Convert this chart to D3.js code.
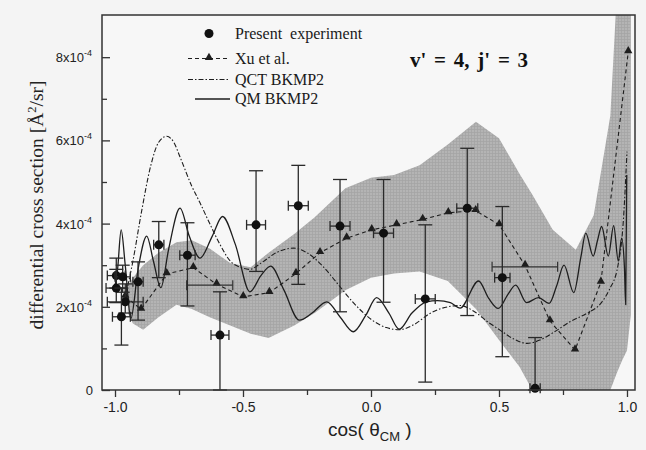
<!DOCTYPE html>
<html>
<head>
<meta charset="utf-8">
<script src="https://cdn.jsdelivr.net/npm/d3@7"></script>
<style>
  body { margin: 0; background: #f4f4f4; }
</style>
</head>
<body>
<div id="chart"></div>
<script>
// values in units of 1e-4 A^2/sr
var expPoints = [
  // [cos, value, low, high, xErr]
  [-0.995, 2.75, 2.45, 3.17, 0.035],
  [-0.97, 2.72, 2.35, 3.0, 0.03],
  [-0.995, 2.45, 2.1, 2.9, 0.04],
  [-0.96, 2.12, 1.85, 2.55, 0.07],
  [-0.975, 1.76, 1.08, 2.45, 0.035],
  [-0.91, 2.6, 1.68, 3.08, 0.02],
  [-0.829, 3.49, 2.7, 4.05, 0.02],
  [-0.717, 3.24, 2.02, 4.02, 0.03],
  [-0.59, 1.32, 0.0, 2.36, 0.035],
  [-0.449, 3.97, 2.85, 5.27, 0.037],
  [-0.284, 4.43, 2.54, 5.4, 0.039],
  [-0.121, 3.94, 1.88, 5.06, 0.039],
  [0.049, 3.77, 2.11, 5.06, 0.039],
  [0.212, 2.19, 0.19, 3.97, 0.039],
  [0.376, 4.37, 1.79, 5.81, 0.041],
  [0.513, 2.7, 0.8, 4.41, 0.03],
  [0.641, 0.04, 0.0, 1.26, 0.02]
];

// wide angular bins drawn without a marker: [cos, value, halfWidth]
var wideBins = [
  [-0.63, 2.52, 0.09],
  [0.601, 2.96, 0.128]
];

var xuCos = [-0.96, -0.898, -0.798, -0.694, -0.603, -0.499, -0.397, -0.293, -0.199, -0.095,
  0.003, 0.1, 0.202, 0.302, 0.409, 0.501, 0.602, 0.699, 0.797, 0.898, 1.005];
var xuVal = [2.25, 1.94, 2.79, 2.94, 2.54, 2.24, 2.34, 2.8, 3.3, 3.65,
  3.85, 3.97, 4.1, 4.26, 4.31, 3.97, 2.99, 1.66, 0.96, 2.59, 8.13];

var qctCos = [-0.95, -0.93, -0.896, -0.86, -0.83, -0.798, -0.77, -0.746, -0.7, -0.668, -0.63,
  -0.59, -0.55, -0.51, -0.473, -0.43, -0.37, -0.303, -0.25, -0.186, -0.13, -0.069, 0.0,
  0.06, 0.11, 0.17, 0.23, 0.3, 0.35, 0.4, 0.46, 0.504, 0.56, 0.61, 0.66, 0.712, 0.78,
  0.842, 0.9, 0.93, 0.965, 0.985, 1.0];
var qctVal = [2.5, 3.1, 4.3, 5.4, 5.95, 6.1, 5.95, 5.6, 4.9, 4.5, 4.0,
  3.5, 3.1, 2.95, 2.9, 3.05, 3.3, 3.41, 3.3, 2.96, 2.55, 2.1, 1.7,
  1.5, 1.45, 1.58, 1.84, 2.0, 2.03, 1.9, 1.62, 1.44, 1.22, 1.12, 1.2, 1.38, 1.65,
  1.84, 2.1, 2.4, 3.0, 4.0, 5.73];

var qmCos = [-1.0, -0.99, -0.976, -0.96, -0.938, -0.91, -0.876, -0.85, -0.821, -0.79, -0.746,
  -0.71, -0.668, -0.62, -0.58, -0.53, -0.473, -0.43, -0.392, -0.34, -0.28, -0.23, -0.173,
  -0.12, -0.069, -0.02, 0.022, 0.07, 0.11, 0.16, 0.217, 0.26, 0.31, 0.348, 0.42, 0.46,
  0.497, 0.535, 0.565, 0.608, 0.654, 0.696, 0.725, 0.754, 0.792, 0.82, 0.839, 0.868,
  0.885, 0.901, 0.927, 0.948, 0.966, 0.979, 0.99, 0.995, 0.999];
var qmVal = [2.5, 2.9, 3.85, 3.0, 1.72, 2.9, 3.7, 3.1, 2.46, 3.4, 4.37,
  3.7, 3.17, 3.7, 4.17, 3.5, 2.36, 2.75, 2.98, 2.4, 1.68, 1.85, 2.12,
  1.75, 1.4, 1.8, 2.22, 1.85, 1.46, 1.85, 2.12, 2.15, 2.1, 1.97, 2.62, 2.2,
  1.96, 2.3, 2.52, 2.1, 2.22, 2.08, 2.5, 3.0, 2.34, 3.2, 3.77, 3.22,
  3.6, 3.93, 3.22, 3.95, 3.1, 3.65, 2.95, 2.05, 5.17];

// shaded band: cos, lower, upper
var bandCos = [-0.95, -0.93, -0.89, -0.83, -0.76, -0.7, -0.63, -0.55, -0.47, -0.4, -0.3,
  -0.22, -0.1, 0.0, 0.09, 0.19, 0.3, 0.41, 0.5, 0.58, 0.63, 0.71, 0.8, 0.87, 0.9,
  0.935, 0.96, 0.98, 1.0, 1.015];
var bandLo = [1.85, 1.6, 1.45, 1.75, 2.05, 1.95, 1.75, 1.55, 1.35, 1.25, 1.55,
  1.85, 2.4, 2.7, 2.8, 2.85, 2.62, 1.95, 1.2, 0.56, 0.0, 0.0, 0.0, 0.0, 0.0,
  0.0, 0.4, 0.7, 0.95, 1.8];
var bandHi = [2.5, 2.7, 3.0, 3.3, 3.55, 3.6, 3.4, 3.05, 2.95, 3.3, 3.75,
  4.15, 4.85, 5.1, 5.17, 5.4, 5.9, 6.45, 6.05, 5.2, 4.7, 3.85, 3.37, 4.2, 5.3,
  6.6, 9.5, 10, 10, 10];

var xTicks = [-1, -0.5, 0, 0.5, 1];
var xTickLabels = ["-1.0", "-0.5", "0.0", "0.5", "1.0"];
var xMinor = [-0.75, -0.25, 0.25, 0.75];
var yTicks = [0, 2, 4, 6, 8];
var yMinor = [1, 3, 5, 7];

function init() {
  var w = 646;
  var h = 450;
  var left = 102, top = 15, right = 635, bottom = 390;
  var ink = "#1e1e1e";

  var svg = d3
    .select("#chart")
    .append("svg")
    .attr("width", w)
    .attr("height", h);

  svg.append("rect").attr("width", w).attr("height", h).attr("fill", "#f4f4f4");

  var x = d3.scaleLinear().domain([-1.0508, 1.0313]).range([left, right]);
  var y = d3.scaleLinear().domain([0, 9.014]).range([bottom, top]);

  // grid texture for the band
  var defs = svg.append("defs");
  var pat = defs
    .append("pattern")
    .attr("id", "grid")
    .attr("width", 3)
    .attr("height", 3)
    .attr("patternUnits", "userSpaceOnUse");
  pat.append("rect").attr("width", 3).attr("height", 3).attr("fill", "#b4b4b4");
  pat.append("path").attr("d", "M0,0.5H3M0.5,0V3").attr("stroke", "#a3a3a3").attr("stroke-width", 0.7);

  defs
    .append("clipPath")
    .attr("id", "clip")
    .append("rect")
    .attr("x", left)
    .attr("y", top)
    .attr("width", right - left)
    .attr("height", bottom - top);

  svg
    .append("rect")
    .attr("x", left)
    .attr("y", top)
    .attr("width", right - left)
    .attr("height", bottom - top)
    .attr("fill", "#f7f7f7");

  var plot = svg.append("g").attr("clip-path", "url(#clip)");

  // band
  var band = bandCos.map((c, i) => ({ c: c, lo: bandLo[i], hi: bandHi[i] }));
  plot
    .append("path")
    .datum(band)
    .attr("fill", "url(#grid)")
    .attr(
      "d",
      d3
        .area()
        .x((d) => x(d.c))
        .y0((d) => y(d.lo))
        .y1((d) => y(d.hi))
    );

  // QCT dash-dot
  var qct = qctCos.map((c, i) => [c, qctVal[i]]);
  plot
    .append("path")
    .datum(qct)
    .attr("fill", "none")
    .attr("stroke", ink)
    .attr("stroke-width", 1.1)
    .attr("stroke-dasharray", "5,2,1.5,2")
    .attr("d", d3.line().x((d) => x(d[0])).y((d) => y(d[1])).curve(d3.curveMonotoneX));

  // QM solid
  var qm = qmCos.map((c, i) => [c, qmVal[i]]);
  plot
    .append("path")
    .datum(qm)
    .attr("fill", "none")
    .attr("stroke", ink)
    .attr("stroke-width", 1.3)
    .attr("d", d3.line().x((d) => x(d[0])).y((d) => y(d[1])).curve(d3.curveMonotoneX));

  // Xu et al. dashed with triangles
  var xu = xuCos.map((c, i) => [c, xuVal[i]]);
  plot
    .append("path")
    .datum(xu)
    .attr("fill", "none")
    .attr("stroke", ink)
    .attr("stroke-width", 1.1)
    .attr("stroke-dasharray", "4,3")
    .attr("d", d3.line().x((d) => x(d[0])).y((d) => y(d[1])));

  var tri = d3.symbol().type(d3.symbolTriangle).size(30);
  plot
    .selectAll(".tri")
    .data(xu)
    .enter()
    .append("path")
    .attr("class", "tri")
    .attr("transform", (d) => "translate(" + x(d[0]) + "," + (y(d[1]) - 1) + ")")
    .attr("d", tri)
    .attr("fill", ink);

  // wide bins
  var bins = plot.selectAll(".bin").data(wideBins).enter().append("g").attr("stroke", "#333").attr("stroke-width", 1.2);
  bins
    .append("line")
    .attr("x1", (d) => x(d[0] - d[2]))
    .attr("x2", (d) => x(d[0] + d[2]))
    .attr("y1", (d) => y(d[1]))
    .attr("y2", (d) => y(d[1]));
  bins
    .append("line")
    .attr("x1", (d) => x(d[0] - d[2]))
    .attr("x2", (d) => x(d[0] - d[2]))
    .attr("y1", (d) => y(d[1]) - 5)
    .attr("y2", (d) => y(d[1]) + 5);
  bins
    .append("line")
    .attr("x1", (d) => x(d[0] + d[2]))
    .attr("x2", (d) => x(d[0] + d[2]))
    .attr("y1", (d) => y(d[1]) - 5)
    .attr("y2", (d) => y(d[1]) + 5);

  // experiment: error bars and circles
  var cap = 7;
  var eb = svg.append("g").selectAll(".eb").data(expPoints).enter().append("g").attr("stroke", "#2a2a2a").attr("stroke-width", 1.3);
  eb.append("line")
    .attr("x1", (d) => x(d[0])).attr("x2", (d) => x(d[0]))
    .attr("y1", (d) => y(d[2])).attr("y2", (d) => y(d[3]));
  eb.append("line")
    .attr("x1", (d) => x(d[0]) - cap).attr("x2", (d) => x(d[0]) + cap)
    .attr("y1", (d) => y(d[2])).attr("y2", (d) => y(d[2]));
  eb.append("line")
    .attr("x1", (d) => x(d[0]) - cap).attr("x2", (d) => x(d[0]) + cap)
    .attr("y1", (d) => y(d[3])).attr("y2", (d) => y(d[3]));
  eb.append("line")
    .attr("x1", (d) => x(d[0] - d[4])).attr("x2", (d) => x(d[0] + d[4]))
    .attr("y1", (d) => y(d[1])).attr("y2", (d) => y(d[1]));
  eb.append("line")
    .attr("x1", (d) => x(d[0] - d[4])).attr("x2", (d) => x(d[0] - d[4]))
    .attr("y1", (d) => y(d[1]) - 5).attr("y2", (d) => y(d[1]) + 5);
  eb.append("line")
    .attr("x1", (d) => x(d[0] + d[4])).attr("x2", (d) => x(d[0] + d[4]))
    .attr("y1", (d) => y(d[1]) - 5).attr("y2", (d) => y(d[1]) + 5);
  eb.append("circle")
    .attr("cx", (d) => x(d[0]))
    .attr("cy", (d) => y(d[1]))
    .attr("r", 4.5)
    .attr("fill", "#111")
    .attr("stroke", "none");

  // frame
  svg
    .append("rect")
    .attr("x", left)
    .attr("y", top)
    .attr("width", right - left)
    .attr("height", bottom - top)
    .attr("fill", "none")
    .attr("stroke", "#333")
    .attr("stroke-width", 1.5);

  // x axis (ticks outward)
  var xAxis = d3.axisBottom(x).tickValues(xTicks).tickSize(7).tickFormat((d, i) => xTickLabels[i]);
  var gx = svg
    .append("g")
    .attr("transform", "translate(0," + bottom + ")")
    .call(xAxis);
  gx.select(".domain").remove();
  gx.selectAll("line").attr("stroke", "#333").attr("stroke-width", 1.3);
  gx.selectAll("text")
    .attr("font-family", "Liberation Sans, Arial, sans-serif")
    .attr("font-size", "14px")
    .attr("fill", "#222")
    .attr("dy", "0.95em")
    .attr("y", 9);
  svg
    .append("g")
    .attr("transform", "translate(0," + bottom + ")")
    .call(d3.axisBottom(x).tickValues(xMinor).tickSize(5).tickFormat(""))
    .call((g) => g.select(".domain").remove())
    .selectAll("line")
    .attr("stroke", "#333")
    .attr("stroke-width", 1.3);

  // y axis (ticks inward)
  var gy = svg
    .append("g")
    .attr("transform", "translate(" + left + ",0)")
    .call(d3.axisRight(y).tickValues(yTicks).tickSize(8).tickFormat(""));
  gy.select(".domain").remove();
  gy.selectAll("line").attr("stroke", "#333").attr("stroke-width", 1.3);
  svg
    .append("g")
    .attr("transform", "translate(" + left + ",0)")
    .call(d3.axisRight(y).tickValues(yMinor).tickSize(5).tickFormat(""))
    .call((g) => g.select(".domain").remove())
    .selectAll("line")
    .attr("stroke", "#333")
    .attr("stroke-width", 1.3);

  var yLab = svg
    .selectAll(".ylab")
    .data(yTicks)
    .enter()
    .append("text")
    .attr("class", "ylab")
    .attr("x", (d) => (d === 0 ? 93 : 92))
    .attr("y", (d) => y(d) + 5)
    .attr("text-anchor", "end")
    .attr("font-family", "Liberation Sans, Arial, sans-serif")
    .attr("font-size", "13px")
    .attr("fill", "#222");
  yLab.each(function (d) {
    var t = d3.select(this);
    if (d === 0) {
      t.text("0");
    } else {
      t.append("tspan").text(d + "x10");
      t.append("tspan").attr("dy", -6).attr("font-size", "9px").text("-4");
    }
  });

  // axis titles
  svg
    .append("text")
    .attr("transform", "translate(43,205) rotate(-90)")
    .attr("text-anchor", "middle")
    .attr("font-family", "Liberation Serif, Times New Roman, serif")
    .attr("font-size", "19.5px")
    .attr("fill", "#222")
    .call((t) => {
      t.append("tspan").text("differential cross section [Å");
      t.append("tspan").attr("dy", -7).attr("font-size", "12.5px").text("2");
      t.append("tspan").attr("dy", 7).text("/sr]");
    });

  svg
    .append("text")
    .attr("x", 328)
    .attr("y", 436)
    .attr("font-family", "Liberation Sans, Arial, sans-serif")
    .attr("font-size", "19px")
    .attr("fill", "#222")
    .call((t) => {
      t.append("tspan").text("cos( θ");
      t.append("tspan").attr("dy", 5).attr("font-size", "13px").text("CM");
      t.append("tspan").attr("dy", -5).text(" )");
    });

  // annotation
  svg
    .append("text")
    .attr("x", 410)
    .attr("y", 67)
    .attr("font-family", "Liberation Serif, Times New Roman, serif")
    .attr("font-weight", "bold")
    .attr("font-size", "21px")
    .attr("fill", "#111")
    .attr("word-spacing", "2.5px")
    .text("v' = 4, j' = 3");

  // legend
  var legend = svg
    .append("g")
    .attr("font-family", "Liberation Serif, Times New Roman, serif")
    .attr("font-size", "16px")
    .attr("fill", "#1a1a1a");
  var lx0 = 188, lx1 = 230, tx = 235;
  var rows = [33.5, 58.5, 79.5, 99];

  legend.append("circle").attr("cx", 209).attr("cy", rows[0]).attr("r", 4.5).attr("fill", "#111");
  legend.append("text").attr("x", tx).attr("y", rows[0] + 5).attr("xml:space", "preserve").text("Present  experiment");

  legend.append("line").attr("x1", lx0).attr("x2", lx1).attr("y1", rows[1]).attr("y2", rows[1])
    .attr("stroke", ink).attr("stroke-width", 1.1).attr("stroke-dasharray", "4,3");
  legend.append("path").attr("transform", "translate(209," + (rows[1] - 1) + ")").attr("d", tri).attr("fill", ink);
  legend.append("text").attr("x", tx).attr("y", rows[1] + 5).text("Xu et al.");

  legend.append("line").attr("x1", lx0).attr("x2", lx1).attr("y1", rows[2]).attr("y2", rows[2])
    .attr("stroke", ink).attr("stroke-width", 1.1).attr("stroke-dasharray", "5,2,1.5,2");
  legend.append("text").attr("x", tx).attr("y", rows[2] + 5).text("QCT BKMP2");

  legend.append("line").attr("x1", 195).attr("x2", lx1).attr("y1", rows[3]).attr("y2", rows[3])
    .attr("stroke", ink).attr("stroke-width", 1.3);
  legend.append("text").attr("x", tx).attr("y", rows[3] + 5).text("QM BKMP2");
}

window.onload = init;
</script>
</body>
</html>
